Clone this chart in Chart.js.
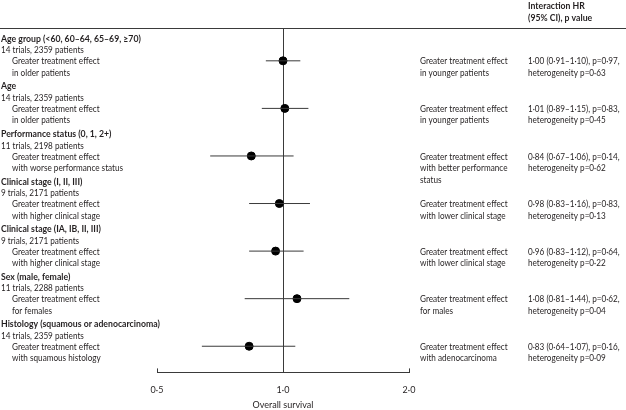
<!DOCTYPE html>
<html>
<head>
<meta charset="utf-8">
<script src="https://cdn.jsdelivr.net/npm/chart.js@4"></script>
<style>
    html, body { margin: 0; padding: 0; background: #fff; }
    #wrap { width: 626px; height: 410px; }
</style>
</head>
<body>
<div id="wrap"><canvas id="forestChart"></canvas></div>
<script>
// Data
const groupTitles = [
    'Age group (<60, 60–64, 65–69, ≥70)',
    'Age',
    'Performance status (0, 1, 2+)',
    'Clinical stage (I, II, III)',
    'Clinical stage (IA, IB, II, III)',
    'Sex (male, female)',
    'Histology (squamous or adenocarcinoma)'
];
const trialLabels = [
    '14 trials, 2359 patients',
    '14 trials, 2359 patients',
    '11 trials, 2198 patients',
    '9 trials, 2171 patients',
    '9 trials, 2171 patients',
    '11 trials, 2288 patients',
    '14 trials, 2359 patients'
];
const leftEffect = [
    ['Greater treatment effect', 'in older patients'],
    ['Greater treatment effect', 'in older patients'],
    ['Greater treatment effect', 'with worse performance status'],
    ['Greater treatment effect', 'with higher clinical stage'],
    ['Greater treatment effect', 'with higher clinical stage'],
    ['Greater treatment effect', 'for females'],
    ['Greater treatment effect', 'with squamous histology']
];
const rightEffect = [
    ['Greater treatment effect', 'in younger patients'],
    ['Greater treatment effect', 'in younger patients'],
    ['Greater treatment effect', 'with better performance', 'status'],
    ['Greater treatment effect', 'with lower clinical stage'],
    ['Greater treatment effect', 'with lower clinical stage'],
    ['Greater treatment effect', 'for males'],
    ['Greater treatment effect', 'with adenocarcinoma']
];
const hazardRatios = [1.00, 1.01, 0.84, 0.98, 0.96, 1.08, 0.83];
const ciLower = [0.91, 0.89, 0.67, 0.83, 0.83, 0.81, 0.64];
const ciUpper = [1.10, 1.15, 1.06, 1.16, 1.12, 1.44, 1.07];
const pValues = [0.97, 0.83, 0.14, 0.83, 0.64, 0.62, 0.16];
const heterogeneityP = [0.63, 0.45, 0.62, 0.13, 0.22, 0.04, 0.09];
const xTicks = [0.5, 1, 2];

const FONT = 'Lato';
const TEXT_COLOR = '#231f20';
const LINE_COLOR = '#3a3a3a';

// Lancet style decimal point
const dot = (v, d) => v.toFixed(d).replace('.', '·');

// CI lines, one small dataset per row
const ciDatasets = hazardRatios.map((hr, i) => ({
    type: 'line',
    data: [{ x: ciLower[i], y: i }, { x: ciUpper[i], y: i }],
    borderColor: LINE_COLOR,
    borderWidth: 1,
    pointRadius: 0,
    showLine: true
}));

const pointDataset = {
    type: 'scatter',
    data: hazardRatios.map((hr, i) => ({ x: hr, y: i })),
    backgroundColor: '#000',
    borderColor: '#000',
    pointRadius: 4,
    pointHoverRadius: 4
};

// the journal font is narrow, so squeeze the text a bit sideways
function drawLines(ctx, items, x, y, bold) {
    ctx.font = `${bold ? 'bold ' : ''}9.5px ${FONT}`;
    const sx = bold ? 0.915 : 0.86;
    items.forEach((t, k) => {
        ctx.save();
        ctx.translate(x, y + k * 11.5);
        ctx.scale(sx, 1);
        ctx.fillText(t, 0, 0);
        ctx.restore();
    });
}

// Reference line, header rule, axis tick marks and all the labels
const forestDecor = {
    id: 'forestDecor',
    beforeDatasetsDraw(chart) {
        const { ctx, chartArea, scales } = chart;
        const x1 = scales.x.getPixelForValue(1);
        ctx.save();
        ctx.strokeStyle = LINE_COLOR;
        ctx.lineWidth = 1;
        ctx.beginPath();
        ctx.moveTo(0, chartArea.top + 0.5);
        ctx.lineTo(chart.width, chartArea.top + 0.5);
        ctx.moveTo(Math.round(x1) + 0.5, chartArea.top);
        ctx.lineTo(Math.round(x1) + 0.5, chartArea.bottom);
        xTicks.forEach(v => {
            const px = Math.round(scales.x.getPixelForValue(v)) + 0.5;
            ctx.moveTo(px, chartArea.bottom);
            ctx.lineTo(px, chartArea.bottom - 4);
        });
        ctx.stroke();
        ctx.restore();
    },
    afterDraw(chart) {
        const { ctx, scales } = chart;
        ctx.save();
        ctx.fillStyle = TEXT_COLOR;
        ctx.textBaseline = 'middle';
        ctx.textAlign = 'left';

        drawLines(ctx, ['Interaction HR', '(95% CI), p value'], 528, 6, true);

        hazardRatios.forEach((hr, i) => {
            const y = scales.y.getPixelForValue(i);
            drawLines(ctx, [groupTitles[i]], 1, y - 22, true);
            drawLines(ctx, [trialLabels[i]], 1, y - 10.5, false);
            drawLines(ctx, leftEffect[i], 12, y + 0.5, false);
            drawLines(ctx, rightEffect[i], 420, y + 0.5, false);
            drawLines(ctx, [
                `${dot(hr, 2)} (${dot(ciLower[i], 2)}–${dot(ciUpper[i], 2)}), p=${dot(pValues[i], 2)},`,
                `heterogeneity p=${dot(heterogeneityP[i], 2)}`
            ], 528, y + 0.5, false);
        });
        ctx.restore();
    }
};

Chart.defaults.font.family = FONT;

new Chart(document.getElementById('forestChart'), {
    type: 'scatter',
    data: { datasets: [...ciDatasets, pointDataset] },
    options: {
        responsive: true,
        maintainAspectRatio: false,
        animation: false,
        layout: { padding: { left: 157, right: 217, top: 28, bottom: 0 } },
        plugins: { legend: { display: false }, tooltip: { enabled: false } },
        scales: {
            x: {
                type: 'logarithmic',
                min: 0.5,
                max: 2,
                afterBuildTicks: axis => { axis.ticks = xTicks.map(v => ({ value: v })); },
                border: { display: true, color: LINE_COLOR, width: 1 },
                grid: { display: false },
                ticks: {
                    autoSkip: false,
                    maxRotation: 0,
                    padding: 4,
                    color: TEXT_COLOR,
                    font: { size: 9 },
                    callback: v => dot(v, 1)
                },
                title: {
                    display: true,
                    text: 'Overall survival',
                    color: TEXT_COLOR,
                    font: { size: 9 },
                    padding: 0
                }
            },
            y: {
                type: 'linear',
                reverse: true,
                min: -0.69,
                max: 6.55,
                display: false
            }
        }
    },
    plugins: [forestDecor]
});
</script>
</body>
</html>
